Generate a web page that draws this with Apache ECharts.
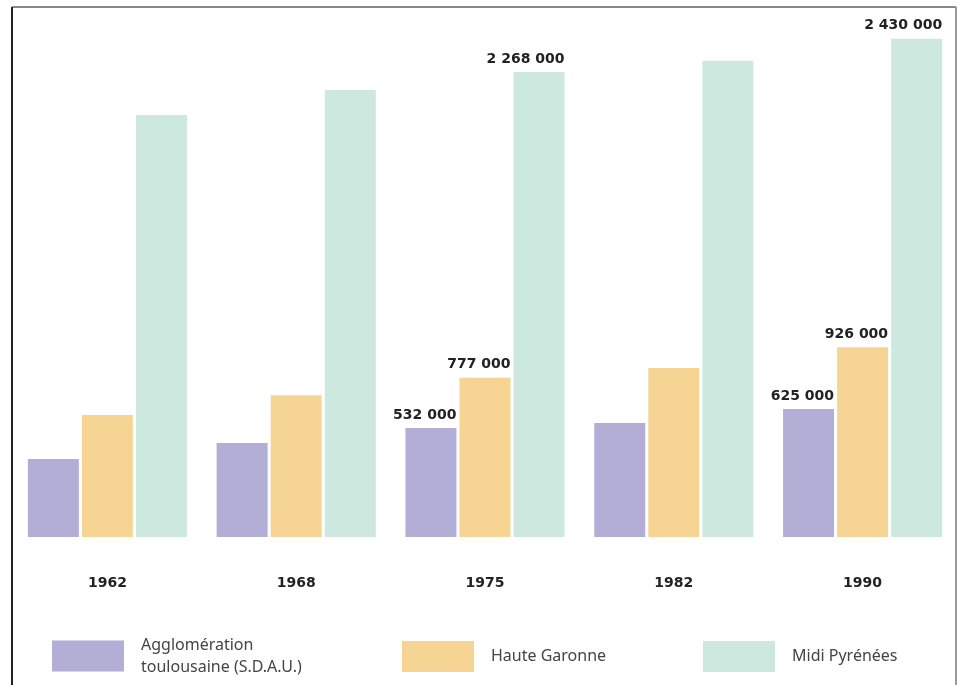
<!DOCTYPE html>
<html>
<head>
<meta charset="utf-8">
<script src="https://cdn.jsdelivr.net/npm/echarts@6/dist/echarts.min.js"></script>
<style>
html,body{margin:0;padding:0;background:#fff;}
#chart{width:958px;height:685px;}
</style>
</head>
<body>
<div id="chart"></div>
<script>
var years = ['1962', '1968', '1975', '1982', '1990'];
var seriesNames = ['Agglomération\ntoulousaine (S.D.A.U.)', 'Haute Garonne', 'Midi Pyrénées'];
var agglo = [380000, 459000, 532000, 556000, 625000];
var hauteGaronne = [595000, 691000, 777000, 825000, 926000];
var midiPyrenees = [2059000, 2181000, 2268000, 2323000, 2430000];
var labeledYears = ['1975', '1990'];
var colors = ['#b3aed6', '#f6d494', '#cce8df'];

function fmt(v) {
  return String(v).replace(/\B(?=(\d{3})+(?!\d))/g, ' ');
}

function buildData(values) {
  return values.map(function (v, i) {
    var show = labeledYears.indexOf(years[i]) >= 0;
    return { value: v, label: { show: show } };
  });
}

var chart = echarts.init(document.getElementById('chart'));
var allValues = [agglo, hauteGaronne, midiPyrenees];
var legendLefts = [52, 402, 703];
var legendTops = [634, 641, 641];

var series = allValues.map(function (vals, k) {
  return {
    name: seriesNames[k],
    type: 'bar',
    data: buildData(vals),
    barWidth: 51,
    barGap: '6%',
    itemStyle: { color: colors[k] },
    label: {
      show: false,
      position: ['100%', -6],
      align: 'right',
      verticalAlign: 'bottom',
      formatter: function (p) { return fmt(p.value); },
      fontFamily: 'DejaVu Sans',
      fontWeight: 'bold',
      fontSize: 14,
      color: '#222'
    },
    emphasis: { disabled: true },
    silent: true
  };
});

var legends = seriesNames.map(function (n, k) {
  return {
    data: [n],
    left: legendLefts[k],
    top: legendTops[k],
    padding: 0,
    itemWidth: 72,
    itemHeight: 31,
    itemGap: 0,
    icon: 'rect',
    selectedMode: false,
    textStyle: {
      fontFamily: 'Noto Sans',
      fontSize: 16,
      lineHeight: 22,
      color: '#444',
      padding: [0, 0, 0, 12]
    }
  };
});

chart.setOption({
  animation: false,
  backgroundColor: '#fff',
  color: colors,
  grid: { left: 13, right: 1, top: 4, bottom: 148, containLabel: false },
  legend: legends,
  xAxis: {
    type: 'category',
    data: years,
    axisLine: { show: false },
    axisTick: { show: false },
    axisLabel: {
      margin: 39,
      fontFamily: 'DejaVu Sans',
      fontWeight: 'bold',
      fontSize: 14,
      color: '#222'
    }
  },
  yAxis: {
    type: 'value',
    min: 0,
    max: 2600000,
    interval: 200000,
    show: false,
    splitLine: { show: false }
  },
  graphic: [
    { type: 'line', shape: { x1: 12, y1: 7, x2: 956, y2: 7 }, style: { stroke: '#888', lineWidth: 2 }, silent: true },
    { type: 'line', shape: { x1: 12, y1: 7, x2: 12, y2: 685 }, style: { stroke: '#222', lineWidth: 2 }, silent: true },
    { type: 'line', shape: { x1: 956, y1: 7, x2: 956, y2: 685 }, style: { stroke: '#999', lineWidth: 2 }, silent: true }
  ],
  series: series
});
</script>
</body>
</html>
